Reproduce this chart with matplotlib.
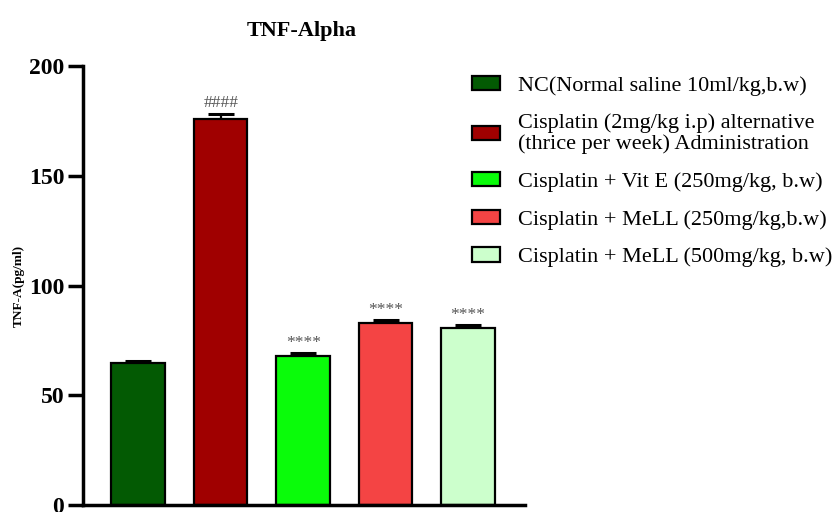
import numpy as np
import matplotlib.pyplot as plt
from matplotlib.patches import Patch

plt.rcParams['font.family'] = ['Liberation Serif', 'DejaVu Serif']

groups = ['NC(Normal saline 10ml/kg,b.w)',
          'Cisplatin (2mg/kg i.p) alternative\n(thrice per week) Administration',
          'Cisplatin + Vit E (250mg/kg, b.w)',
          'Cisplatin + MeLL (250mg/kg,b.w)',
          'Cisplatin + MeLL (500mg/kg, b.w)']
tnf_mean = [64.8, 176.0, 67.9, 82.8, 80.6]
tnf_sem = [0.9, 2.4, 1.5, 1.5, 1.4]
marks = ['', '####', '****', '****', '****']
colors = ['#035a03', '#a00000', '#0afc0a', '#f44444', '#ccffcc']

fig = plt.figure(figsize=(8.38, 5.12), dpi=100)
ax = fig.add_axes([0.099, 0.0137, 0.5275, 0.857])

x = np.arange(len(tnf_mean))
ax.bar(x, tnf_mean, width=0.65, color=colors, edgecolor='black', linewidth=1.6, zorder=2)
ax.errorbar(x, tnf_mean, yerr=[np.zeros(len(tnf_sem)), tnf_sem], fmt='none',
            ecolor='black', elinewidth=1.6, capsize=9.5, capthick=2.2, zorder=1)

# significance marks above the error caps
for xi, m, s, lab in zip(x, tnf_mean, tnf_sem, marks):
    if lab:
        ax.text(xi, m + s + 1.0, lab, ha='center', va='bottom', fontsize=12.5,
                color='#555555')

ax.set_xlim(-0.67, 4.69)
ax.set_ylim(0, 200)
ax.set_yticks([0, 50, 100, 150, 200])
ax.set_xticks([])
for lbl in ax.get_yticklabels():
    lbl.set_fontweight('bold')
    lbl.set_fontsize(17)
ax.tick_params(axis='y', length=11, width=2.5, direction='out', pad=2.5)
ax.spines['top'].set_visible(False)
ax.spines['right'].set_visible(False)
ax.spines['left'].set_linewidth(2.5)
ax.spines['bottom'].set_linewidth(2.5)
ax.set_ylabel('TNF-A(pg/ml)', fontsize=9.5, fontweight='bold', labelpad=3)

fig.text(302 / 838, 1 - 31 / 512, 'TNF-Alpha', ha='center', va='center',
         fontsize=16, fontweight='bold')

handles = [Patch(facecolor=c, edgecolor='black', linewidth=1.6) for c in colors]
leg = fig.legend(handles, groups, loc='upper left', bbox_to_anchor=(0.563, 0.852),
                 frameon=False, fontsize=16, handlelength=1.27, handleheight=0.6,
                 handletextpad=0.8, labelspacing=0.8, borderpad=0, borderaxespad=0)
for t in leg.get_texts():
    t.set_linespacing(1.1)

fig.savefig('out.png', dpi=100)
